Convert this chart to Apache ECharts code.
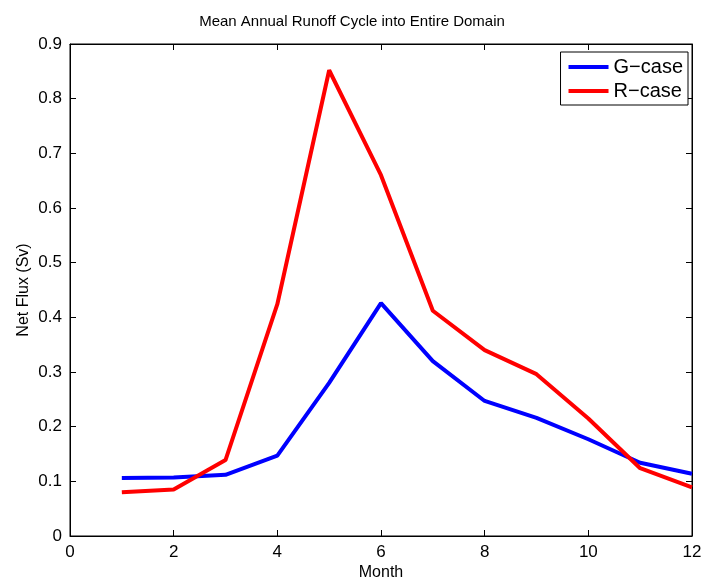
<!DOCTYPE html>
<html><head><meta charset="utf-8">
<script src="https://cdn.jsdelivr.net/npm/echarts@6/dist/echarts.min.js"></script>
<style>html,body{margin:0;padding:0;background:#fff}#c{width:704px;height:578px}</style>
</head><body><div id="c"></div>
<script>
const months = [1,2,3,4,5,6,7,8,9,10,11,12];
const gCase = [0.106,0.107,0.112,0.147,0.280,0.426,0.320,0.247,0.216,0.177,0.134,0.114];
const rCase = [0.080,0.085,0.139,0.424,0.852,0.660,0.412,0.340,0.296,0.215,0.124,0.089];
const xTicks = [0,2,4,6,8,10,12];
const yTicks = [0,0.1,0.2,0.3,0.4,0.5,0.6,0.7,0.8,0.9];

const font = 'Liberation Sans, Arial, Helvetica, sans-serif';
const chart = echarts.init(document.getElementById('c'));
const axLine = () => ({show:true, onZero:false, lineStyle:{color:'#000', width:1}});
const tick = () => ({show:true, inside:true, length:6, lineStyle:{color:'#000', width:1}});
chart.setOption({
  animation:false,
  title:{text:'Mean Annual Runoff Cycle into Entire Domain', left:'center', top:9,
    textStyle:{fontFamily:font, fontSize:15, fontWeight:'normal', color:'#000'}},
  grid:{left:70, right:12, top:44, bottom:42, outerBoundsMode:'none', containLabel:false,
    show:true, borderColor:'#000', borderWidth:1, backgroundColor:'transparent'},
  legend:{orient:'vertical', right:16, top:52, backgroundColor:'#fff', borderColor:'#000', borderWidth:1,
    padding:[5,5,4,8], itemGap:4, itemWidth:40, itemHeight:4, icon:'rect',
    textStyle:{fontFamily:font, fontSize:20, color:'#000'},
    data:['G\u2212case','R\u2212case']},
  xAxis:[{type:'value', min:0, max:12, interval:2, name:'Month', nameLocation:'middle', nameGap:29, nameMoveOverlap:false,
    nameTextStyle:{fontFamily:font, fontSize:16, color:'#000'},
    axisLine:axLine(), axisTick:tick(), splitLine:{show:false},
    axisLabel:{fontFamily:font, fontSize:17, color:'#000', margin:8,
      formatter:v=>xTicks.includes(v)?String(v):''}},
   {type:'value', position:'top', min:0, max:12, interval:2, axisLine:axLine(), axisTick:tick(),
    axisLabel:{show:false}, splitLine:{show:false}}],
  yAxis:[{type:'value', min:0, max:0.9, interval:0.1, name:'Net Flux (Sv)', nameLocation:'middle', nameGap:38, nameMoveOverlap:false,
    nameTextStyle:{fontFamily:font, fontSize:16, color:'#000'},
    axisLine:axLine(), axisTick:tick(), splitLine:{show:false},
    axisLabel:{fontFamily:font, fontSize:17, color:'#000', margin:8,
      formatter:v=>{const m=yTicks.find(t=>Math.abs(t-v)<1e-9);return m===undefined?'':(m===0?'0':String(m));}}},
   {type:'value', position:'right', min:0, max:0.9, interval:0.1, axisLine:axLine(), axisTick:tick(),
    axisLabel:{show:false}, splitLine:{show:false}}],
  series:[
    {name:'G\u2212case', type:'line', data:months.map((m,i)=>[m,gCase[i]]), showSymbol:false,
     lineStyle:{color:'#0000ff', width:4}, itemStyle:{color:'#0000ff'}},
    {name:'R\u2212case', type:'line', data:months.map((m,i)=>[m,rCase[i]]), showSymbol:false,
     lineStyle:{color:'#ff0000', width:4}, itemStyle:{color:'#ff0000'}},
    {name:'mirror', type:'line', xAxisIndex:1, yAxisIndex:1, data:[], silent:true}
  ]
});
</script></body></html>
